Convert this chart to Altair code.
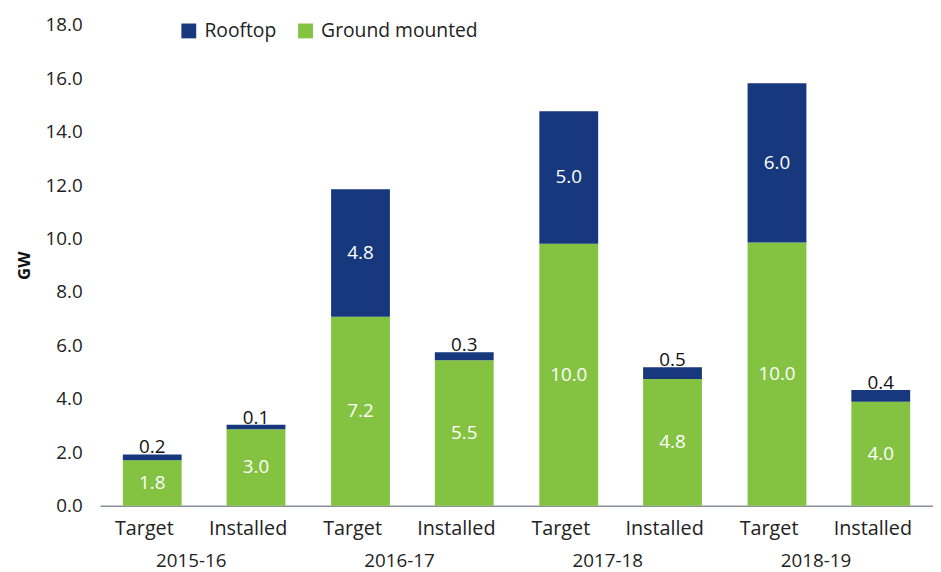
import altair as alt
import pandas as pd

years = ["2015-16", "2016-17", "2017-18", "2018-19"]
kinds = ["Target", "Installed"]
# bar order: (year, kind) pairs
bar_year = ["2015-16", "2015-16", "2016-17", "2016-17", "2017-18", "2017-18", "2018-19", "2018-19"]
bar_kind = ["Target", "Installed"] * 4
ground_values = [1.70, 2.86, 7.07, 5.44, 9.81, 4.74, 9.85, 3.89]
rooftop_values = [0.22, 0.17, 4.78, 0.30, 4.96, 0.44, 5.96, 0.44]
ground_labels = ["1.8", "3.0", "7.2", "5.5", "10.0", "4.8", "10.0", "4.0"]
rooftop_labels = ["0.2", "0.1", "4.8", "0.3", "5.0", "0.5", "6.0", "0.4"]

series = ["Rooftop", "Ground mounted"]
colors = ["#17387c", "#84c341"]

rows = []
for i in range(len(bar_year)):
    rows.append(dict(year=bar_year[i], kind=bar_kind[i], series="Ground mounted",
                     value=ground_values[i], label=ground_labels[i], order=0))
    rows.append(dict(year=bar_year[i], kind=bar_kind[i], series="Rooftop",
                     value=rooftop_values[i], label=rooftop_labels[i], order=1))
df = pd.DataFrame(rows)

FONT = "Open Sans"
W, H = 842, 486

x_enc = alt.X("year:N", sort=years,
              scale=alt.Scale(paddingInner=0, paddingOuter=0),
              axis=alt.Axis(title=None, labelAngle=0, ticks=False, labelFontSize=19,
                            labelFont=FONT, labelColor="#222222", labelPadding=46,
                            labelOffset=-13,
                            domainColor="#8a909a", domainWidth=1.5))
xo_enc = alt.XOffset("kind:N", sort=kinds,
                     scale=alt.Scale(paddingInner=0.433, paddingOuter=0.22))

base = alt.Chart(df).transform_stack(
    stack="value", groupby=["year", "kind"], as_=["y0", "y1"],
    sort=[alt.SortField("order", order="ascending")]
).transform_calculate(mid="(datum.y0 + datum.y1) / 2")

bars = base.mark_bar().encode(
    x=x_enc,
    xOffset=xo_enc,
    y=alt.Y("y0:Q", scale=alt.Scale(domain=[0, 18], nice=False),
            axis=alt.Axis(title="GW", values=[0, 2, 4, 6, 8, 10, 12, 14, 16, 18],
                          format=".1f", grid=False, ticks=False, domain=False,
                          labelFontSize=19, labelFont=FONT, labelColor="#222222",
                          labelPadding=18, titleFont=FONT, titleFontSize=17,
                          titleFontWeight="bold", titleColor="#111111", titlePadding=12)),
    y2="y1:Q",
    color=alt.Color("series:N", scale=alt.Scale(domain=series, range=colors),
                    legend=alt.Legend(title=None, orient="none", direction="horizontal",
                                      legendX=80, legendY=-4, symbolType="square",
                                      symbolSize=225, labelFontSize=19.5, labelFont=FONT,
                                      labelColor="#222222", columnPadding=19,
                                      labelOffset=6, padding=0, symbolStrokeWidth=0,
                                      labelLimit=400)),
)

inside = base.transform_filter(
    "datum.series == 'Ground mounted' || datum.value > 1"
).mark_text(font=FONT, fontSize=19, color="white", baseline="middle").encode(
    x=alt.X("year:N", sort=years), xOffset=xo_enc, y="mid:Q", text="label:N")

above = base.transform_filter(
    "datum.series == 'Rooftop' && datum.value <= 1"
).mark_text(font=FONT, fontSize=19, color="#111111", baseline="alphabetic", dy=-1).encode(
    x=alt.X("year:N", sort=years), xOffset=xo_enc, y="y1:Q", text="label:N")

kind_labels = base.transform_filter("datum.series == 'Rooftop'").mark_text(
    font=FONT, fontSize=20, color="#222222", baseline="middle", dx=-8).encode(
    x=alt.X("year:N", sort=years), xOffset=xo_enc, y=alt.value(H + 24), text="kind:N")

chart = alt.layer(bars, inside, above, kind_labels).properties(
    width=W, height=H,
    autosize=alt.AutoSizeParams(type="none"),
    padding={"left": 93, "top": 14, "right": 0, "bottom": 66},
).configure_view(stroke=None)

chart.save("out.html", embed_options={"renderer": "svg", "actions": False})
